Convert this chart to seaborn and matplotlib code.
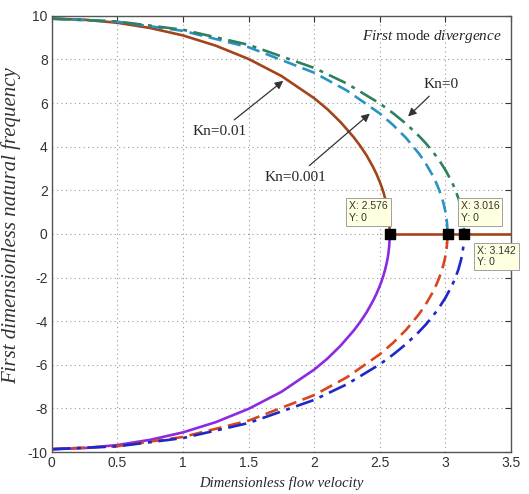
import matplotlib
matplotlib.use('Agg')
import matplotlib.pyplot as plt
import seaborn as sns

# valeurs (branche positive ; la branche negative est symetrique)
u_kn001 = [0, 0.25, 0.5, 0.75, 1.0, 1.25, 1.5, 1.75, 2.0, 2.1, 2.2, 2.3, 2.35, 2.4, 2.45, 2.475, 2.5,
           2.515, 2.53, 2.54, 2.55, 2.56, 2.565, 2.572, 2.576]
w_kn001 = [9.87, 9.82, 9.68, 9.44, 9.10, 8.63, 8.02, 7.24, 6.22, 5.72, 5.13, 4.44, 4.04, 3.59, 3.05, 2.74, 2.38,
           2.14, 1.86, 1.64, 1.40, 1.10, 0.91, 0.55, 0]

u_kn0001 = [0, 0.5, 1.0, 1.5, 2.0, 2.25, 2.5, 2.6, 2.7, 2.8, 2.85, 2.9, 2.93, 2.95, 2.97, 2.98, 2.99, 3.0,
            3.01, 3.014, 3.016]
w_kn0001 = [9.87, 9.73, 9.31, 8.56, 7.39, 6.57, 5.52, 5.00, 4.40, 3.67, 3.23, 2.71, 2.34, 2.05, 1.72, 1.52, 1.29, 1.02,
            0.62, 0.36, 0]

u_kn0 = [0, 0.5, 1.0, 1.5, 2.0, 2.25, 2.5, 2.6, 2.7, 2.8, 2.85, 2.9, 2.95, 3.0, 3.05, 3.075, 3.1, 3.12,
         3.135, 3.14, 3.142]
w_kn0 = [9.87, 9.74, 9.36, 8.67, 7.61, 6.89, 5.98, 5.54, 5.05, 4.48, 4.16, 3.80, 3.40, 2.93, 2.37, 2.03, 1.61, 1.17,
         0.66, 0.35, 0]

# branche divergente (frequence nulle) apres le point critique Kn=0.01
u_div = [2.576, 3.5]
w_div = [0, 0]

kn_labels = ['Kn=0.01', 'Kn=0.001', 'Kn=0']
u_crit = [2.576, 3.016, 3.142]
w_crit = [0, 0, 0]

sns.set_style('white')
plt.rcParams['font.family'] = ['Liberation Sans', 'DejaVu Sans']
plt.rcParams['axes.unicode_minus'] = False
plt.rcParams['mathtext.fontset'] = 'custom'
plt.rcParams['mathtext.rm'] = 'Liberation Serif'
plt.rcParams['mathtext.it'] = 'Liberation Serif:italic'

fig = plt.figure(figsize=(5.29, 4.94), dpi=100)
ax = fig.add_axes([0.098, 0.085, 0.868, 0.883])

dashdot = (0, (7, 2.5, 1.5, 2.5))
dash = (0, (5, 2.5))
lw = 1.9

# branches positives
sns.lineplot(x=u_kn001, y=w_kn001, ax=ax, color='#A3441C', lw=lw, estimator=None, sort=False)
sns.lineplot(x=u_kn0001, y=w_kn0001, ax=ax, color='#2A93C4', lw=lw, linestyle=dash, estimator=None, sort=False)
sns.lineplot(x=u_kn0, y=w_kn0, ax=ax, color='#2F8060', lw=lw, linestyle=dashdot, estimator=None, sort=False)
# branches negatives
sns.lineplot(x=u_kn001, y=[-w for w in w_kn001], ax=ax, color='#8A2BE2', lw=lw, estimator=None, sort=False)
sns.lineplot(x=u_kn0001, y=[-w for w in w_kn0001], ax=ax, color='#D9461E', lw=lw, linestyle=dash, estimator=None, sort=False)
sns.lineplot(x=u_kn0, y=[-w for w in w_kn0], ax=ax, color='#1E28C8', lw=lw, linestyle=dashdot, estimator=None, sort=False)
# divergence
sns.lineplot(x=u_div, y=w_div, ax=ax, color='#A3441C', lw=lw, estimator=None, sort=False)

ax.scatter(u_crit, w_crit, marker='s', s=45, color='black', zorder=5)

ax.set_xlim(0, 3.5)
ax.set_ylim(-10, 10)
ax.set_xticks([0, 0.5, 1, 1.5, 2, 2.5, 3, 3.5])
ax.set_xticklabels(['0', '0.5', '1', '1.5', '2', '2.5', '3', '3.5'])
ax.set_yticks(range(-10, 11, 2))
ax.grid(True, linestyle=(0, (1, 3)), color='#9a9a9a', lw=0.8)
ax.tick_params(direction='in', length=4, top=True, right=True, labelsize=10, colors='#333333', pad=3)
for sp in ax.spines.values():
    sp.set_color('#555555')
    sp.set_linewidth(1.0)

ax.set_xlabel('Dimensionless flow velocity', family='Liberation Serif', style='italic', fontsize=10.5, labelpad=4)
ax.set_ylabel('First dimensionless natural frequency', family='Liberation Serif', style='italic', fontsize=15,
              color='#333333')
ax.yaxis.set_label_coords(-0.066, 0.52)

ax.text(3.43, 9.05, r'$\mathit{First}$ mode $\mathit{divergence}$', ha='right', va='center',
        family='Liberation Serif', fontsize=11)

# annotations Kn
arrow = dict(arrowstyle='-|>', color='#333333', lw=0.9, mutation_scale=12)
ax.annotate(kn_labels[0], xy=(1.78, 7.1), xytext=(1.28, 4.7), ha='center', va='center',
            family='Liberation Serif', fontsize=11, arrowprops=arrow)
ax.annotate(kn_labels[1], xy=(2.44, 5.6), xytext=(1.86, 2.6), ha='center', va='center',
            family='Liberation Serif', fontsize=11, arrowprops=arrow)
ax.annotate(kn_labels[2], xy=(2.7, 5.3), xytext=(2.97, 6.85), ha='center', va='center',
            family='Liberation Serif', fontsize=11, arrowprops=arrow)

# data tips
tip_box = dict(boxstyle='square,pad=0.3', fc='#FFFFE1', ec='#a0a0a0', lw=0.7)
tip_pos = [((-1.5, 8), 'right', 'bottom'), ((9.5, 8), 'left', 'bottom'), ((9.5, -8.5), 'left', 'top')]
for u, w, (off, ha, va) in zip(u_crit, w_crit, tip_pos):
    ax.annotate(f'X: {u}\nY: {w}', xy=(u, w), xytext=off, textcoords='offset points',
                ha=ha, va=va, multialignment='left', fontsize=7.5,
                color='#333333', bbox=tip_box, zorder=6)

fig.savefig('out.png', dpi=100)
